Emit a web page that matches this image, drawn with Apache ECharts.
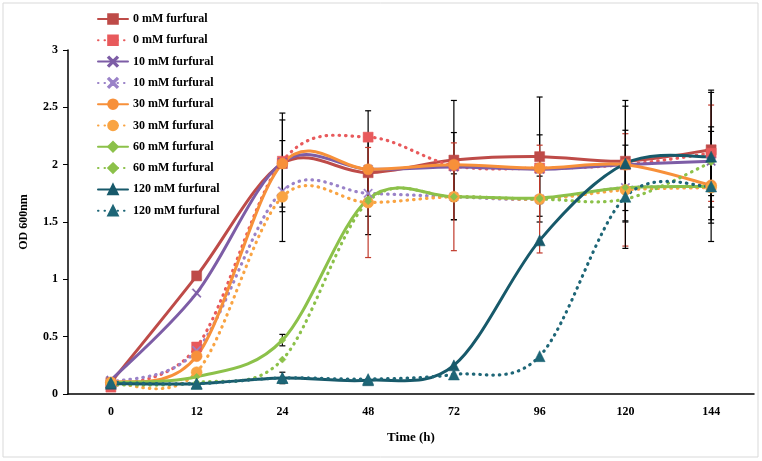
<!DOCTYPE html>
<html><head><meta charset="utf-8">
<script src="https://cdn.jsdelivr.net/npm/echarts@6/dist/echarts.min.js"></script>
<style>html,body{margin:0;padding:0;background:#fff}#c{width:762px;height:461px}</style>
</head><body><div id="c"></div>
<script>
var categories = ['0','12','24','48','72','96','120','144'];
var yTicks = [0,0.5,1,1.5,2,2.5,3];

var s0Solid   = [0.10, 1.03, 2.01, 1.93, 2.04, 2.07, 2.03, 2.13];
var s0Dot     = [0.06, 0.41, 2.03, 2.24, 1.99, 1.97, 2.00, 2.10];
var s10Solid  = [0.12, 0.88, 2.02, 1.96, 1.98, 1.96, 2.00, 2.03];
var s10Dot    = [0.10, 0.38, 1.77, 1.75, 1.72, 1.70, 1.80, 1.80];
var s30Solid  = [0.10, 0.33, 2.01, 1.96, 2.00, 1.97, 2.00, 1.82];
var s30Dot    = [0.10, 0.19, 1.72, 1.67, 1.72, 1.70, 1.78, 1.80];
var s60Solid  = [0.10, 0.15, 0.47, 1.70, 1.72, 1.71, 1.80, 1.81];
var s60Dot    = [0.08, 0.10, 0.30, 1.68, 1.72, 1.70, 1.70, 2.02];
var s120Solid = [0.09, 0.09, 0.14, 0.12, 0.25, 1.34, 2.01, 2.07];
var s120Dot   = [0.10, 0.09, 0.14, 0.13, 0.17, 0.33, 1.72, 1.81];

// error bar half-widths (0 = none drawn)
var e0Solid   = [0, 0, 0.38, 0.54, 0.52, 0.52, 0.53, 0.50];
var e0Dot     = [0, 0, 0, 0, 0, 0, 0, 0.42];
var e10Solid  = [0, 0, 0.43, 0.30, 0.30, 0.30, 0.30, 0.30];
var e10Dot    = [0, 0, 0.44, 0.20, 0.20, 0.20, 0.20, 0.28];
var e30Dot    = [0, 0, 0, 0.48, 0.47, 0.47, 0.49, 0];
var e60Solid  = [0, 0, 0.05, 0, 0, 0, 0, 0];
var e120Solid = [0.05, 0, 0.05, 0, 0, 0, 0.50, 0.58];
var e120Dot   = [0, 0, 0, 0, 0, 0, 0.45, 0.48];

var FONT = 'Liberation Serif';
var xSym = 'path://M0,1L1,0L5,4L9,0L10,1L6,5L10,9L9,10L5,6L1,10L0,9L4,5Z';
var DOT = [0.5, 6];

function markerSeries(name, data, color, dotted, symbol, size){
  return {
    name: name, type: 'line', data: data, smooth: false,
    symbol: symbol, symbolSize: size, showSymbol: true,
    color: color,
    lineStyle: {color: color, width: 3, type: dotted ? DOT : 'solid', cap: 'round', opacity: 0},
    itemStyle: {color: color, borderColor: color, borderWidth: 0.5},
    z: 5
  };
}
function curveSeries(data, color, dotted){
  return {
    type: 'custom', silent: true, z: 2,
    data: data.map(function(v,i){ return [i, v]; }),
    renderItem: function(params, api){
      var i = params.dataIndexInside, n = params.dataInsideLength;
      if (i >= n - 1) return null;
      function P(k){ k = Math.max(0, Math.min(n-1, k)); return api.coord([api.value(0,k), api.value(1,k)]); }
      var p0 = P(i-1), p1 = P(i), p2 = P(i+1), p3 = P(i+2);
      var t = 1/6;
      return {type:'bezierCurve', shape:{
          x1:p1[0], y1:p1[1], x2:p2[0], y2:p2[1],
          cpx1:p1[0]+(p2[0]-p0[0])*t, cpy1:p1[1]+(p2[1]-p0[1])*t,
          cpx2:p2[0]-(p3[0]-p1[0])*t, cpy2:p2[1]-(p3[1]-p1[1])*t},
        style:{stroke:color, fill:null, lineWidth: dotted ? 3.2 : 3, lineDash: dotted ? DOT : null, lineCap:'round'}};
    }
  };
}
function errSeries(mean, err, color){
  var d = [];
  mean.forEach(function(m,i){ if (err[i] > 0) d.push([i, m - err[i], m + err[i]]); });
  return {
    type: 'custom', silent: true, z: 4, data: d,
    renderItem: function(params, api){
      var x = api.value(0);
      var a = api.coord([x, api.value(2)]), b = api.coord([x, api.value(1)]);
      var w = 3, st = {stroke: color, lineWidth: 1.2};
      return {type:'group', children:[
        {type:'line', shape:{x1:a[0],y1:a[1],x2:b[0],y2:b[1]}, style:st},
        {type:'line', shape:{x1:a[0]-w,y1:a[1],x2:a[0]+w,y2:a[1]}, style:st},
        {type:'line', shape:{x1:b[0]-w,y1:b[1],x2:b[0]+w,y2:b[1]}, style:st}
      ]};
    }
  };
}

var names = ['0 mM furfural','0 mM furfural ','10 mM furfural','10 mM furfural ','30 mM furfural','30 mM furfural ','60 mM furfural','60 mM furfural ','120 mM furfural','120 mM furfural '];
var defs = [
  [s0Solid,  '#BE4B48', false, 'rect', 10],
  [s0Dot,    '#E85A5C', true,  'rect', 10],
  [s10Solid, '#7D5DA6', false, xSym, 9],
  [s10Dot,   '#9A82C8', true,  xSym, 9],
  [s30Solid, '#F7903A', false, 'circle', 11],
  [s30Dot,   '#F9A443', true,  'circle', 11],
  [s60Solid, '#8CC14A', false, 'diamond', 7],
  [s60Dot,   '#8CC14A', true,  'diamond', 7],
  [s120Solid,'#17596A', false, 'triangle', 11],
  [s120Dot,  '#1E6677', true,  'triangle', 11]
];

var series = [];
defs.forEach(function(d){ series.push(curveSeries(d[0], d[1], d[2])); });
series.push(errSeries(s0Solid, e0Solid, '#000'));
series.push(errSeries(s0Dot, e0Dot, '#C0392B'));
series.push(errSeries(s10Solid, e10Solid, '#000'));
series.push(errSeries(s10Dot, e10Dot, '#000'));
series.push(errSeries(s30Dot, e30Dot, '#C0392B'));
series.push(errSeries(s60Solid, e60Solid, '#000'));
series.push(errSeries(s120Solid, e120Solid, '#000'));
series.push(errSeries(s120Dot, e120Dot, '#000'));
defs.forEach(function(d, k){ series.push(markerSeries(names[k], d[0], d[1], d[2], d[3], d[4])); });

var chart = echarts.init(document.getElementById('c'), null, {renderer:'canvas'});
chart.setOption({
  animation: false,
  backgroundColor: '#fff',
  graphic: [{type:'rect', shape:{x:3,y:3,width:755,height:454}, style:{fill:'none', stroke:'#D9D9D9', lineWidth:1}, silent:true}],
  legend: {
    data: names.map(function(n){ return {name: n, lineStyle: {opacity: 1}}; }),
    orient: 'vertical', left: 92, top: 8,
    itemWidth: 30, itemHeight: 12, itemGap: 9.3,
    textStyle: {fontFamily: FONT, fontWeight: 'bold', fontSize: 12, color: '#000'},
    selectedMode: false
  },
  grid: {left: 68, right: 8, top: 50, bottom: 67},
  xAxis: {
    type: 'category', data: categories, boundaryGap: true,
    name: 'Time (h)', nameLocation: 'middle', nameGap: 37,
    nameTextStyle: {fontFamily: FONT, fontWeight: 'bold', fontSize: 13, color: '#000'},
    axisLine: {lineStyle: {color: '#000', width: 1.5}},
    axisTick: {show: false},
    axisLabel: {fontFamily: FONT, fontWeight: 'bold', fontSize: 12, color: '#000', margin: 12}
  },
  yAxis: {
    type: 'value', min: yTicks[0], max: yTicks[yTicks.length-1], interval: 0.5,
    name: 'OD 600nm', nameLocation: 'middle', nameGap: 38,
    nameTextStyle: {fontFamily: FONT, fontWeight: 'bold', fontSize: 12, color: '#000'},
    axisLine: {show: true, lineStyle: {color: '#000', width: 1.5}},
    axisTick: {show: true, inside: false, length: 5, lineStyle: {color:'#000'}},
    splitLine: {show: false},
    axisLabel: {fontFamily: FONT, fontWeight: 'bold', fontSize: 12, color: '#000', margin: 10}
  },
  series: series
});
</script></body></html>
